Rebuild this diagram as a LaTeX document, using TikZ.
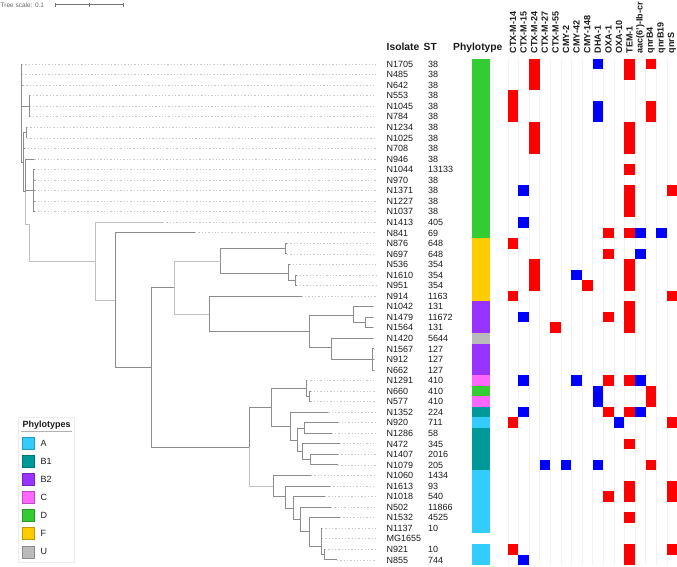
\documentclass[tikz,border=0pt]{standalone}
\usepackage{fontspec}
\setmainfont{Liberation Sans}
\definecolor{phA}{HTML}{33CCFF}
\definecolor{phBa}{HTML}{009999}
\definecolor{phBb}{HTML}{9933FF}
\definecolor{phC}{HTML}{FF66FF}
\definecolor{phD}{HTML}{33CC33}
\definecolor{phF}{HTML}{FFCC00}
\definecolor{phU}{HTML}{BBBBBB}
\definecolor{hmR}{HTML}{FF0000}
\definecolor{hmB}{HTML}{0000FF}
\definecolor{brc}{HTML}{8C8C8C}
\definecolor{brl}{HTML}{C0C0C0}
\definecolor{dotc}{HTML}{C8C8C8}
\definecolor{txt}{HTML}{1A1A1A}
\definecolor{gridc}{HTML}{F2F2F2}
\tikzset{
 br/.style={draw=brc, line width=0.9pt},
 brlight/.style={draw=brl, line width=0.9pt},
 leafdot/.style={draw=dotc, line width=0.7pt, dash pattern=on 1.3pt off 2pt},
 isolab/.style={font=\fontsize{9}{10}\selectfont, text=txt, inner sep=0pt, anchor=base west},
 hdr/.style={font=\fontsize{10.3}{12}\selectfont\bfseries, text=txt, inner sep=0pt, anchor=base west},
 collab/.style={font=\fontsize{9}{10}\selectfont\bfseries, text=txt, inner sep=0pt, rotate=90, anchor=west},
 legsq/.style={draw=#1!75!black, fill=#1, line width=0.5pt, minimum size=12pt, inner sep=0pt},
 leglab/.style={font=\fontsize{9}{11}\selectfont, text=txt, inner sep=0pt, anchor=west},
}
\begin{document}
\begin{tikzpicture}[x=1pt,y=-1pt]
\useasboundingbox (0,0) rectangle (677,566);
% scale bar
\node[font=\fontsize{6.5}{8}\selectfont, text=black!60, inner sep=0pt, anchor=base west] (scaletxt) at (0.5,7.2) {Tree scale: 0.1};
\coordinate (sb1) at (55,4.7);
\coordinate (sbm) at (89,4.7);
\coordinate (sb2) at (123,4.7);
\draw[black!55, line width=0.6pt] (sb1) -- (sb2);
\foreach \t in {sb1,sbm,sb2} \draw[black!55, line width=0.6pt] ([yshift=-2pt]\t) -- ([yshift=2pt]\t);
% headers
\node[hdr] (hIso) at (386.5,50.5) {Isolate};
\node[hdr] (hST) at (423.5,50.5) {ST};
\node[hdr] (hPhy) at (453,50.5) {Phylotype};
\foreach \c/\lab in {0/CTX-M-14,1/CTX-M-15,2/CTX-M-24,3/CTX-M-27,4/CTX-M-55,5/CMY-2,6/CMY-42,7/CMY-148,8/DHA-1,9/OXA-1,10/OXA-10,11/TEM-1,12/{aac(6')-Ib-cr},13/qnrB4,14/qnrB19,15/qnrS}
  \node[collab] (col\c) at ({513+10.6*\c},53.5) {\lab};
% faint heatmap grid
\foreach \c in {0,...,16} \draw[gridc, line width=0.4pt] ({507.7+10.6*\c},58.7) -- ({507.7+10.6*\c},565);
% leaves
\foreach \i/\iso/\st/\tx in {1/N1705/38/22, 2/N485/38/22, 3/N642/38/23, 4/N553/38/29.8, 5/N1045/38/29.8, 6/N784/38/29.8, 7/N1234/38/27, 8/N1025/38/27, 9/N708/38/24.5, 10/N946/38/34.3, 11/N1044/13133/34.5, 12/N970/38/34.5, 13/N1371/38/34.5, 14/N1227/38/34.5, 15/N1037/38/34.5, 16/N1413/405/163, 17/N841/69/195, 18/N876/648/287, 19/N697/648/287, 20/N536/354/289.5, 21/N1610/354/296.5, 22/N951/354/296.5, 23/N914/1163/301.7, 24/N1042/131/373, 25/N1479/11672/373, 26/N1564/131/373, 27/N1420/5644/373, 28/N1567/127/374, 29/N912/127/374, 30/N662/127/374, 31/N1291/410/307, 32/N660/410/310.5, 33/N577/410/310.5, 34/N1352/224/328.3, 35/N920/711/338.3, 36/N1286/58/331.7, 37/N472/345/340, 38/N1407/2016/338, 39/N1079/205/338, 40/N1060/1434/311, 41/N1613/93/330, 42/N1018/540/325, 43/N502/11866/331, 44/N1532/4525/340, 45/N1137/10/322, 46/MG1655/{}/322, 47/N921/10/325, 48/N855/744/337}{
  \pgfmathsetmacro{\yy}{64+(\i-1)*10.55}
  \coordinate (L\i) at (\tx,\yy);
  \coordinate (E\i) at (376,\yy);
  \draw[leafdot] (L\i) -- (E\i);
  \node[isolab] (I\i) at (386.5,{\yy+3.2}) {\iso};
  \node[isolab] (S\i) at (428,{\yy+3.2}) {\st};
}
% internal nodes
\coordinate (ROOT) at (21.3,113);
\coordinate (DB) at (29,106.2);
\coordinate (R1) at (23.3,162.15);
\coordinate (DC) at (26,132.6);
\coordinate (R2) at (25.7,191.65);
\coordinate (DE) at (33,190.6);
\coordinate (R3) at (29,224.3);
\coordinate (N95) at (95,261.5);
\coordinate (N115) at (115,300.7);
\coordinate (N151) at (151.7,367.3);
\coordinate (N174) at (174,287.3);
\coordinate (N220) at (220.7,261.7);
\coordinate (N285) at (285,248.6);
\coordinate (N288) at (288.3,273.3);
\coordinate (N295) at (295,280.3);
\coordinate (N209) at (209.3,314);
\coordinate (N309) at (309.3,331);
\coordinate (N353) at (353.3,315);
\coordinate (N365) at (365,322.5);
\coordinate (N331) at (331,347.7);
\coordinate (N373) at (372.7,359.4);
\coordinate (N249) at (249,447.3);
\coordinate (N272) at (271.7,407.3);
\coordinate (N306) at (306,388.3);
\coordinate (N309b) at (309,396.3);
\coordinate (N291) at (290.7,426.7);
\coordinate (N298) at (297.7,440);
\coordinate (N304) at (304.3,428);
\coordinate (N302) at (302.3,451.7);
\coordinate (N311) at (310.7,459.6);
\coordinate (N273) at (273.3,486.7);
\coordinate (N286) at (285.7,496.7);
\coordinate (N293) at (293.3,508.3);
\coordinate (N300) at (300,519.3);
\coordinate (N309c) at (309.3,531.7);
\coordinate (N321) at (321,546);
\coordinate (N324) at (324,554.6);
% branches
\foreach \p/\c in {ROOT/L1,ROOT/L2,ROOT/L3,ROOT/DB,ROOT/R1,DB/L4,DB/L5,DB/L6,R1/DC,R1/L9,R1/R2,DC/L7,DC/L8,R2/L10,R2/DE,DE/L11,DE/L12,DE/L13,DE/L14,DE/L15,N115/L17,N115/N151,N151/N174,N151/N249,N220/N285,N220/N288,N285/L18,N285/L19,N288/L20,N288/N295,N295/L21,N295/L22,N209/L23,N209/N309,N309/N353,N309/N331,N353/L24,N353/N365,N365/L25,N365/L26,N331/L27,N331/N373,N373/L28,N373/L29,N373/L30,N249/N272,N272/N306,N272/N291,N306/L31,N306/N309b,N309b/L32,N309b/L33,N291/L34,N291/N298,N298/N304,N298/N302,N304/L35,N304/L36,N302/L37,N302/N311,N311/L38,N311/L39,N273/L40,N273/N286,N286/L41,N286/N293,N293/L42,N293/N300,N300/L43,N300/N309c,N309c/L44,N309c/N321,N321/L45,N321/L46,N321/N324,N324/L47,N324/L48}
  \draw[br] (\p) |- (\c);
\foreach \p/\c in {R2/R3,R3/N95,N95/L16,N95/N115,N174/N220,N174/N209,N249/N273}
  \draw[brlight] (\p) |- (\c);
% phylotype bar
\foreach \a/\b/\col in {1/17/phD,18/23/phF,24/26/phBb,27/27/phU,28/30/phBb,31/31/phC,32/32/phD,33/33/phC,34/34/phBa,35/35/phA,36/39/phBa,40/45/phA,47/48/phA}
  \fill[\col] (472.3,{58.725+10.55*(\a-1)}) rectangle (490,{58.725+10.55*\b});
% heatmap
\foreach \r/\c/\col in {1/2/hmR,1/8/hmB,1/11/hmR,1/13/hmR,2/2/hmR,2/11/hmR,3/2/hmR,4/0/hmR,5/0/hmR,5/8/hmB,5/13/hmR,6/0/hmR,6/8/hmB,6/13/hmR,7/2/hmR,7/11/hmR,8/2/hmR,8/11/hmR,9/2/hmR,9/11/hmR,11/11/hmR,13/1/hmB,13/11/hmR,13/15/hmR,14/11/hmR,15/11/hmR,16/1/hmB,17/9/hmR,17/11/hmR,17/12/hmB,17/14/hmB,18/0/hmR,19/9/hmR,19/12/hmB,20/2/hmR,20/11/hmR,21/2/hmR,21/6/hmB,21/11/hmR,22/2/hmR,22/7/hmR,22/11/hmR,23/0/hmR,23/15/hmR,24/11/hmR,25/1/hmB,25/9/hmR,25/11/hmR,26/4/hmR,26/11/hmR,31/1/hmB,31/6/hmB,31/9/hmR,31/11/hmR,31/12/hmB,32/8/hmB,32/13/hmR,33/8/hmB,33/13/hmR,34/1/hmB,34/9/hmR,34/11/hmR,34/12/hmB,35/0/hmR,35/10/hmB,35/15/hmR,37/11/hmR,39/3/hmB,39/5/hmB,39/8/hmB,39/13/hmR,41/11/hmR,41/15/hmR,42/9/hmR,42/11/hmR,42/15/hmR,44/11/hmR,47/0/hmR,47/11/hmR,47/15/hmR,48/1/hmB,48/11/hmR}
  \fill[\col] ({507.7+10.6*\c},{58.725+10.55*(\r-1)}) rectangle ++(10.6,10.55);
% legend
\draw[black!7, line width=0.6pt] (18.5,417) rectangle (74,562);
\node[font=\fontsize{9}{11}\selectfont\bfseries, text=txt, inner sep=0pt, anchor=base west] (legT) at (22.5,427.3) {Phylotypes};
\coordinate (lu1) at (21,431.7);
\coordinate (lu2) at (72,431.7);
\draw[black!30, line width=0.6pt] (lu1) -- (lu2);
\foreach \k/\col/\lab in {0/phA/A,1/phBa/B1,2/phBb/B2,3/phC/C,4/phD/D,5/phF/F,6/phU/U} {
  \node[legsq=\col] (lsq\k) at (28.3,{443+18.13*\k}) {};
  \node[leglab] (llab\k) at (40.5,{443+18.13*\k}) {\lab};
}
\end{tikzpicture}
\end{document}
